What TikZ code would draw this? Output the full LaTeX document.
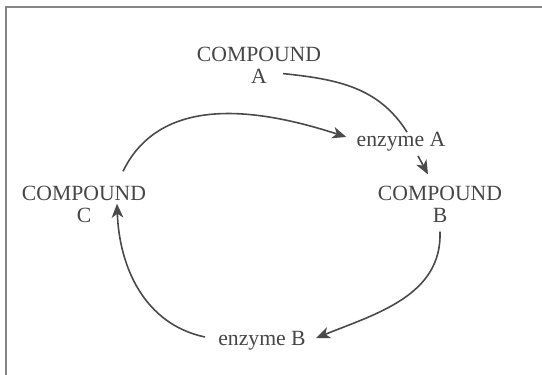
\documentclass[tikz,border=0pt]{standalone}
\usepackage{fontspec}
\setmainfont{Liberation Serif}
\usepackage{xcolor}
\usetikzlibrary{positioning,arrows.meta,calc}

\definecolor{inkgray}{HTML}{464646}
\definecolor{linegray}{HTML}{4a4a4a}
\definecolor{framegray}{HTML}{858585}

\begin{document}
\begin{tikzpicture}[
    x=0.5pt, y=0.5pt,
    lbl/.style={inner sep=0pt, align=center, text=inkgray,
                font=\fontsize{10.85}{11}\selectfont},
    cmp/.style={lbl},
    enz/.style={lbl},
    arr/.style={-{Stealth[length=7pt,width=5.8pt,inset=2pt]}, line width=0.8pt, linegray},
    plain/.style={line width=0.8pt, linegray},
  ]
  \useasboundingbox (0,0) rectangle (542,-375);
  % open frame (right and bottom run off the page)
  \draw[framegray, line width=1pt] (6,-375) -- (6,-7) -- (542,-7);

  \node[cmp] (cmpA) at (259,-65)  {COMPOUND\\A};
  \node[cmp] (cmpB) at (440,-204) {COMPOUND\\B};
  \node[cmp] (cmpC) at (84,-204)  {COMPOUND\\C};
  \node[enz] (enzA) at (401,-142) {enzyme A};
  \node[enz] (enzB) at (262,-341) {enzyme B};

  % A -> enzyme A -> B
  \draw[plain] ([shift={(12pt,5pt)}]cmpA.south) to[out=-6, in=122]
               ([xshift=3pt]enzA.north);
  \draw[arr] ([xshift=8.5pt,yshift=-2pt]enzA.south) -- ([shift={(-6pt,5.5pt)}]cmpB.north);
  % C -> enzyme A
  \draw[arr] ([shift={(19.5pt,7pt)}]cmpC.north) to[out=64, in=162]
             ([shift={(-5pt,2.5pt)}]enzA.west);
  % B -> enzyme B
  \draw[arr] ([yshift=-4.5pt]cmpB.south) to[out=-88, in=22]
             ([shift={(5pt,1.5pt)}]enzB.east);
  % enzyme B -> C
  \draw[arr] ([shift={(-6.5pt,2pt)}]enzB.west) to[out=168, in=-88]
             ([shift={(16.5pt,9.5pt)}]cmpC.south);
\end{tikzpicture}
\end{document}
